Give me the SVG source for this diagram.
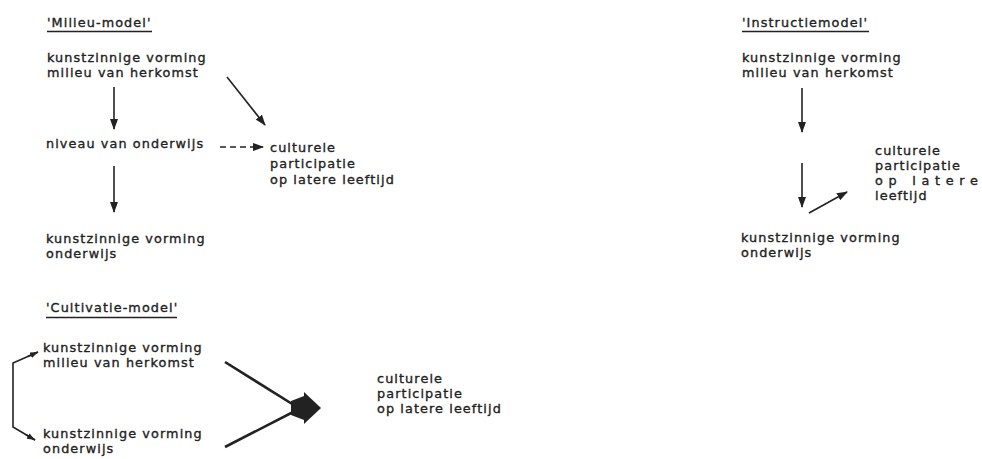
<svg xmlns="http://www.w3.org/2000/svg" width="982" height="459" viewBox="0 0 982 459">
<defs>
<style>
text{font-family:"DejaVu Sans","Liberation Sans",sans-serif;font-size:12.8px;letter-spacing:1.1px;fill:#222;stroke:#222;stroke-width:0.35px}
.ln{stroke:#222;stroke-width:1.6;fill:none}
.thick{stroke:#222;stroke-width:2.6;fill:none}
.ul{stroke:#222;stroke-width:1.6}
</style>
<marker id="ah" markerUnits="userSpaceOnUse" markerWidth="11" markerHeight="8" refX="10" refY="4" orient="auto">
<path d="M0,0 L11,4 L0,8 Z" fill="#222"/>
</marker>
<marker id="ahs" markerUnits="userSpaceOnUse" markerWidth="8" markerHeight="6" refX="8" refY="3" orient="auto">
<path d="M0,0 L8,3 L0,6 Z" fill="#222"/>
</marker>
</defs>
<rect width="982" height="459" fill="#fff"/>

<!-- Milieu-model -->
<g id="milieu-title"><text x="47" y="27">'Milieu-model'</text><line class="ul" x1="47" y1="31.5" x2="152" y2="31.5"/></g>
<g id="m-herkomst"><text x="47" y="62">kunstzinnige vorming</text><text x="47" y="77">milieu van herkomst</text></g>
<g id="m-niveau"><text x="46" y="148">niveau van onderwijs</text></g>
<g id="m-participatie"><text x="270" y="152">culturele</text><text x="270" y="168">participatie</text><text x="270" y="184">op latere leeftijd</text></g>
<g id="m-onderwijs"><text x="46" y="243">kunstzinnige vorming</text><text x="46" y="258">onderwijs</text></g>

<!-- Cultivatie-model -->
<g id="cultivatie-title"><text x="46" y="312">'Cultivatie-model'</text><line class="ul" x1="46" y1="317.5" x2="177" y2="317.5"/></g>
<g id="c-herkomst"><text x="43" y="352">kunstzinnige vorming</text><text x="43" y="367">milieu van herkomst</text></g>
<g id="c-onderwijs"><text x="43" y="438">kunstzinnige vorming</text><text x="43" y="453">onderwijs</text></g>
<g id="c-participatie"><text x="377" y="383">culturele</text><text x="377" y="398">participatie</text><text x="377" y="413">op latere leeftijd</text></g>

<!-- Instructiemodel -->
<g id="instructie-title"><text x="742" y="27">'Instructiemodel'</text><line class="ul" x1="742" y1="31.5" x2="869" y2="31.5"/></g>
<g id="i-herkomst"><text x="742" y="62">kunstzinnige vorming</text><text x="742" y="77">milieu van herkomst</text></g>
<g id="i-participatie"><text x="875" y="155">culturele</text><text x="875" y="170">participatie</text><text x="875" y="185" textLength="104" lengthAdjust="spacing">op latere</text><text x="875" y="200">leeftijd</text></g>
<g id="i-onderwijs"><text x="741" y="242">kunstzinnige vorming</text><text x="741" y="257">onderwijs</text></g>

<g id="connectors">
<!-- milieu -->
<line class="ln" x1="114" y1="87" x2="114" y2="129" marker-end="url(#ah)"/>
<line class="ln" x1="227" y1="77" x2="265" y2="125" marker-end="url(#ah)"/>
<line class="ln" x1="220" y1="147" x2="263" y2="147" stroke-dasharray="6,4" marker-end="url(#ah)"/>
<line class="ln" x1="114" y1="166" x2="114" y2="212" marker-end="url(#ah)"/>
<!-- cultivatie -->
<polyline class="ln" points="38,352 13,363 13,427 35,440" stroke-width="2"/>
<line class="ln" x1="28" y1="356.5" x2="38" y2="352" marker-end="url(#ahs)"/>
<line class="ln" x1="26" y1="434.8" x2="35" y2="440" marker-end="url(#ahs)"/>
<line class="thick" x1="225" y1="362" x2="297" y2="407"/>
<line class="thick" x1="225" y1="447" x2="297" y2="410"/>
<polygon points="291,401 304,396 304,392 321,408 304,424 304,420 291,415" fill="#222"/>
<!-- instructie -->
<line class="ln" x1="802" y1="88" x2="802" y2="132" marker-end="url(#ah)"/>
<line class="ln" x1="802" y1="163" x2="802" y2="207" marker-end="url(#ah)"/>
<line class="ln" x1="809" y1="213" x2="847" y2="192" marker-end="url(#ah)"/>
</g>
</svg>
